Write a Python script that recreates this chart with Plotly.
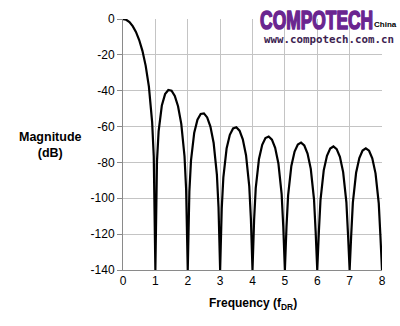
import plotly.graph_objects as go

# Frequency (in units of f_DR) and magnitude (dB)
freq = [0, 0.1, 0.2, 0.3, 0.4, 0.5, 0.6, 0.7, 0.8, 0.9, 0.95, 1.0,
        1.05, 1.1, 1.2, 1.3, 1.4, 1.5, 1.6, 1.7, 1.8, 1.9, 1.95, 2.0,
        2.05, 2.1, 2.2, 2.3, 2.4, 2.5, 2.6, 2.7, 2.8, 2.9, 2.95, 3.0,
        3.05, 3.1, 3.2, 3.3, 3.4, 3.5, 3.6, 3.7, 3.8, 3.9, 3.95, 4.0,
        4.05, 4.1, 4.2, 4.3, 4.4, 4.5, 4.6, 4.7, 4.8, 4.9, 4.95, 5.0,
        5.05, 5.1, 5.2, 5.3, 5.4, 5.5, 5.6, 5.7, 5.8, 5.9, 5.95, 6.0,
        6.05, 6.1, 6.2, 6.3, 6.4, 6.5, 6.6, 6.7, 6.8, 6.9, 6.95, 7.0,
        7.05, 7.1, 7.2, 7.3, 7.4, 7.5, 7.6, 7.7, 7.8, 7.9, 7.95, 8.0]

magnitude = [0, -0.43, -1.73, -3.96, -7.23, -11.73, -17.77, -25.98, -37.75, -57.55, -76.68, -140,
             -79.26, -62.71, -48.19, -41.90, -39.58, -40.02, -42.96, -48.69, -58.45, -76.55, -94.93, -140,
             -96.17, -79.02, -63.41, -56.16, -52.98, -52.65, -54.90, -60.00, -69.18, -86.75, -104.88, -140,
             -105.65, -88.28, -72.25, -64.61, -61.06, -60.39, -62.31, -67.11, -76.00, -93.29, -111.30, -140,
             -111.81, -94.32, -78.05, -70.18, -66.42, -65.54, -67.26, -71.87, -80.58, -97.69, -115.61, -140,
             -115.95, -98.37, -81.94, -73.92, -70.00, -68.97, -70.55, -75.01, -83.59, -100.57, -118.42, -140,
             -118.63, -100.99, -84.43, -76.29, -72.25, -71.10, -72.56, -76.91, -85.37, -102.23, -120.03, -140,
             -120.13, -102.44, -85.78, -77.52, -73.38, -72.12, -73.48, -77.72, -86.08, -102.84, -120.59, -140]

x_ticks = [0, 1, 2, 3, 4, 5, 6, 7, 8]
y_ticks = [0, -20, -40, -60, -80, -100, -120, -140]

fig = go.Figure()
fig.add_trace(go.Scatter(x=freq, y=magnitude, mode="lines",
                         line=dict(color="black", width=2.2), hoverinfo="skip"))

font_main = "Arial, Liberation Sans, Helvetica, sans-serif"
logo_color = "#6a2590"

fig.update_layout(
    width=400, height=326,
    margin=dict(l=122.5, r=18.3, t=13.3, b=56),
    paper_bgcolor="white", plot_bgcolor="white",
    showlegend=False,
    font=dict(family=font_main, size=12, color="black"),
    xaxis=dict(range=[0, 8], tickvals=x_ticks, ticktext=[str(v) for v in x_ticks],
               showgrid=True, gridcolor="#c4c4c4", gridwidth=1,
               showline=True, linecolor="#8a8a8a", linewidth=1,
               ticks="", zeroline=False, tickfont=dict(size=12)),
    yaxis=dict(range=[-140, 0], tickvals=y_ticks, ticktext=[str(v) for v in y_ticks],
               showgrid=True, gridcolor="#c4c4c4", gridwidth=1,
               showline=True, linecolor="#8a8a8a", linewidth=1,
               ticks="outside", ticklen=5, tickcolor="#8a8a8a",
               zeroline=False, tickfont=dict(size=12)),
    annotations=[
        dict(text="<b>Magnitude<br>(dB)</b>", xref="paper", yref="paper",
             x=-0.28, y=0.5, xanchor="center", yanchor="middle",
             showarrow=False, font=dict(size=12.5)),
        dict(text="<b>Frequency (f<sub>DR</sub>)</b>", xref="paper", yref="paper",
             x=0.503, y=-0.137, xanchor="center", yanchor="middle",
             showarrow=False, font=dict(size=12)),
        dict(text="<b>COMPOTECH</b>", xref="paper", yref="paper",
             x=0.52, y=0.997, xanchor="left", yanchor="middle", showarrow=False,
             font=dict(family=font_main, size=26, color=logo_color)),
        dict(text="<b>China</b>", xref="paper", yref="paper",
             x=0.963, y=0.98, xanchor="left", yanchor="middle", showarrow=False,
             font=dict(size=8, color="black")),
        dict(text="<b>www.compotech.com.cn</b>", xref="paper", yref="paper",
             x=0.538, y=0.92, xanchor="left", yanchor="middle", showarrow=False,
             font=dict(family="DejaVu Sans Mono, Liberation Mono, monospace",
                       size=10.8, color="#3c1e50")),
    ],
)

# Condense and embolden the logo word (heavy narrow face in the reference)
post = """
var gd = document.getElementById('{plot_id}');
function squeezeLogo(){
  var els = gd.querySelectorAll('text.annotation-text');
  els.forEach(function(el){
    if (el.textContent === 'COMPOTECH') {
      el.style.transformBox = 'fill-box';
      el.style.transformOrigin = 'left center';
      el.style.transform = 'scaleX(0.67)';
      el.style.stroke = 'LOGOCOLOR';
      el.style.strokeWidth = '1.6px';
      el.style.strokeLinejoin = 'round';
    }
  });
}
squeezeLogo();
if (gd.on) { gd.on('plotly_afterplot', squeezeLogo); }
setTimeout(squeezeLogo, 30);
""".replace("LOGOCOLOR", logo_color)

fig.write_html("out.html", post_script=post)
